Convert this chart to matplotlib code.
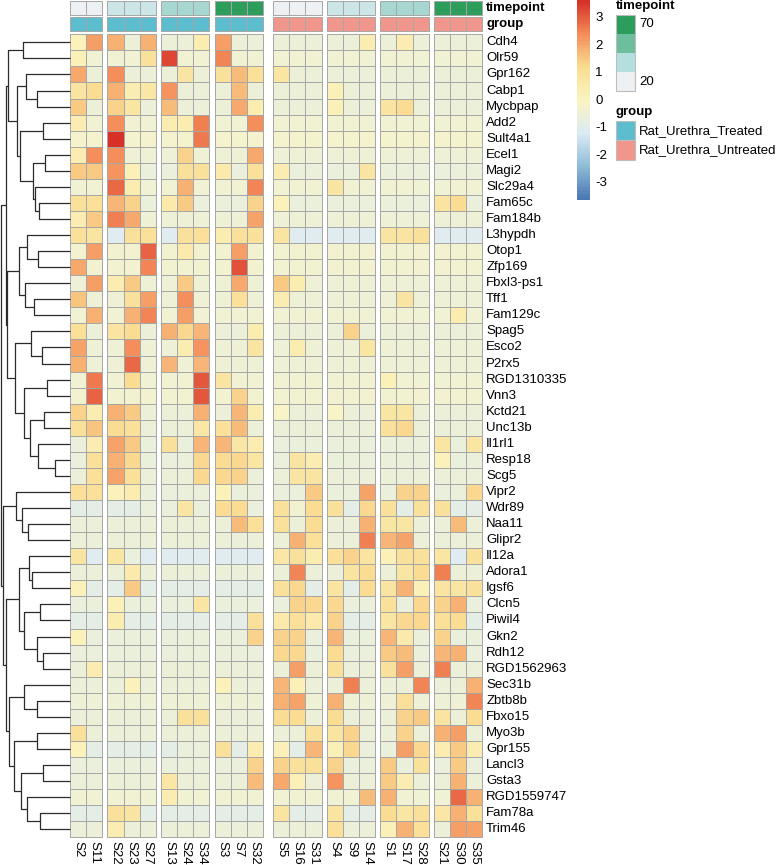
import numpy as np
import matplotlib
matplotlib.use("Agg")
import matplotlib.pyplot as plt
from matplotlib.colors import LinearSegmentedColormap, Normalize
from matplotlib.patches import Rectangle

plt.rcParams['font.family'] = ['Liberation Sans', 'DejaVu Sans']

# data
samples = ['S2', 'S11', 'S22', 'S23', 'S27', 'S13', 'S24', 'S34', 'S3', 'S7', 'S32',
           'S5', 'S16', 'S31', 'S4', 'S9', 'S14', 'S1', 'S17', 'S28', 'S21', 'S30', 'S35']
block_sizes = [2, 3, 3, 3, 3, 3, 3, 3]
block_timepoint = [20, 30, 40, 70, 20, 30, 40, 70]
block_group = ['Rat_Urethra_Treated'] * 4 + ['Rat_Urethra_Untreated'] * 4

genes = ['Cdh4', 'Olr59', 'Gpr162', 'Cabp1', 'Mycbpap', 'Add2', 'Sult4a1', 'Ecel1', 'Magi2',
         'Slc29a4', 'Fam65c', 'Fam184b', 'L3hypdh', 'Otop1', 'Zfp169', 'Fbxl3-ps1', 'Tff1',
         'Fam129c', 'Spag5', 'Esco2', 'P2rx5', 'RGD1310335', 'Vnn3', 'Kctd21', 'Unc13b',
         'Il1rl1', 'Resp18', 'Scg5', 'Vipr2', 'Wdr89', 'Naa11', 'Glipr2', 'Il12a', 'Adora1',
         'Igsf6', 'Clcn5', 'Piwil4', 'Gkn2', 'Rdh12', 'RGD1562963', 'Sec31b', 'Zbtb8b',
         'Fbxo15', 'Myo3b', 'Gpr155', 'Lancl3', 'Gsta3', 'RGD1559747', 'Fam78a', 'Trim46']

# row z-scores, columns in the order of `samples`
zscores = [
    [0.2, 2.2, 1.9, -0.5, 1.9, -0.5, -0.5, 0.4, 2.2, -0.5, -0.5, -0.5, -0.5, -0.5, -0.5, -0.5, 0.4, -0.5, 0.4, -0.5, -0.5, -0.5, -0.5],
    [0.3, -0.35, -0.35, -0.35, 1.0, 3.3, -0.4, -0.4, 2.5, -0.4, -0.4, -0.4, -0.4, -0.4, -0.4, -0.4, -0.4, -0.4, -0.4, -0.4, -0.4, -0.4, -0.4],
    [2.0, -0.5, 2.4, -0.5, -0.5, -0.5, 0.9, -0.5, 1.0, 1.7, 1.1, 0.8, -0.5, -0.5, -0.5, -0.5, -0.5, -0.5, -0.5, -0.5, -0.5, -0.5, -0.5],
    [0.9, 1.2, 1.9, 0.4, 0.7, 2.3, -0.5, -0.5, -0.5, 1.7, -0.5, -0.5, -0.5, -0.5, 0.3, -0.5, -0.5, -0.5, -0.5, -0.5, -0.5, -0.5, -0.5],
    [1.5, -0.5, 1.4, 0.8, -0.5, 1.7, -0.5, -0.5, -0.5, 2.0, 0.5, -0.5, -0.5, -0.5, 0.3, -0.5, -0.5, 0.9, 1.2, -0.5, -0.5, -0.5, -0.5],
    [0.4, -0.4, 2.4, -0.4, -0.4, 0.4, 0.4, 2.6, -0.4, -0.4, 2.4, -0.4, -0.4, -0.4, -0.4, -0.4, -0.4, -0.4, -0.4, -0.4, -0.4, -0.4, -0.4],
    [-0.2, -0.2, 3.6, -0.2, -0.2, -0.2, -0.2, 2.7, -0.2, -0.2, -0.2, -0.2, -0.2, -0.2, -0.2, -0.2, -0.2, -0.2, -0.2, -0.2, -0.2, -0.2, -0.2],
    [0.4, 2.4, 2.4, -0.45, -0.45, -0.45, 1.4, -0.45, -0.45, -0.45, 2.0, -0.45, -0.45, -0.45, -0.45, -0.45, -0.45, -0.45, -0.45, -0.45, -0.45, -0.45, -0.45],
    [1.5, 1.5, 2.3, 0.3, -0.6, -0.6, 1.0, 1.0, 0.6, -0.6, 1.1, 0.4, -0.6, -0.6, -0.6, -0.6, 0.9, -0.6, -0.6, -0.6, -0.6, -0.6, -0.6],
    [-0.4, -0.4, 2.9, 0.5, -0.4, -0.4, 1.9, -0.4, -0.4, -0.4, 2.5, -0.4, -0.4, -0.4, 0.9, -0.4, -0.4, -0.4, -0.4, -0.4, -0.4, -0.4, -0.4],
    [1.0, 1.1, 1.8, 1.4, -0.6, 0.6, 1.5, -0.6, -0.6, -0.6, 1.4, 0.2, -0.6, -0.6, -0.6, -0.6, -0.6, -0.6, -0.6, -0.6, 0.9, 1.2, -0.6],
    [0.4, 1.5, 2.6, 2.0, -0.45, -0.45, -0.45, -0.45, -0.45, -0.45, 2.1, -0.45, -0.45, -0.45, -0.45, -0.45, -0.45, -0.45, -0.45, -0.45, -0.45, -0.45, -0.45],
    [1.0, 0.9, -1.0, 1.0, 1.1, -1.0, 1.0, 1.1, 0.5, 1.0, 1.0, 0.9, -1.0, -1.0, -1.0, -1.0, -1.0, 0.9, 0.9, 1.0, -1.0, -1.0, -1.0],
    [-0.3, 2.2, -0.3, -0.3, 3.0, -0.3, 0.6, -0.3, -0.3, 2.2, -0.3, -0.3, -0.3, -0.3, -0.3, -0.3, -0.3, -0.3, -0.3, -0.3, -0.3, -0.3, -0.3],
    [2.0, -0.3, -0.3, -0.3, 2.5, -0.3, -0.3, -0.3, -0.3, 3.2, -0.3, -0.3, -0.3, -0.3, -0.3, -0.3, -0.3, -0.3, -0.3, -0.3, -0.3, -0.3, -0.3],
    [-0.45, 2.2, 0.5, 1.5, -0.45, -0.45, 1.5, -0.45, -0.45, 2.0, -0.45, 1.5, 0.5, -0.45, -0.45, -0.45, -0.45, -0.45, -0.45, -0.45, -0.45, -0.45, -0.45],
    [1.6, -0.45, -0.45, 1.0, 2.2, -0.45, 2.4, -0.45, -0.45, 1.1, -0.45, 0.4, -0.45, -0.45, -0.45, -0.45, -0.45, -0.45, 0.9, -0.45, -0.45, -0.45, -0.45],
    [-0.4, 1.9, -0.4, 1.9, 2.5, -0.4, 2.2, -0.4, -0.4, -0.4, -0.4, -0.4, -0.4, -0.4, -0.4, -0.4, -0.4, -0.4, -0.4, -0.4, -0.4, 0.5, -0.4],
    [1.1, -0.55, 0.9, 1.2, -0.55, 1.9, 1.3, 1.8, -0.55, -0.55, 0.5, -0.55, -0.55, -0.55, -0.55, 1.4, -0.55, -0.55, -0.55, -0.55, -0.55, -0.55, -0.55],
    [2.1, -0.45, -0.45, 2.4, -0.45, -0.45, 0.4, 2.3, -0.45, -0.45, 0.9, -0.45, 0.5, -0.45, -0.45, -0.45, 0.8, -0.45, -0.45, -0.45, -0.45, -0.45, -0.45],
    [1.9, -0.45, -0.45, 2.9, -0.45, 1.8, -0.45, 1.8, -0.45, -0.45, -0.45, -0.45, -0.45, -0.45, -0.45, -0.45, -0.45, -0.45, -0.45, -0.45, -0.45, -0.45, -0.45],
    [-0.4, 2.7, -0.4, 1.2, -0.4, -0.4, -0.4, 3.1, 0.9, -0.4, -0.4, -0.4, -0.4, -0.4, -0.4, -0.4, -0.4, 0.3, -0.4, -0.4, -0.4, -0.4, -0.4],
    [-0.3, 3.0, -0.3, -0.3, -0.3, -0.3, -0.3, 3.1, -0.3, 1.4, -0.3, -0.3, -0.3, -0.3, -0.3, -0.3, -0.3, -0.3, -0.3, -0.3, -0.3, -0.3, -0.3],
    [1.4, 0.4, 1.9, 1.5, -0.55, -0.55, -0.55, 1.9, -0.55, 1.8, 0.4, -0.1, -0.55, -0.55, -0.1, -0.55, -0.55, 0.8, 0.8, -0.55, -0.55, -0.55, -0.55],
    [1.0, 1.6, 1.2, 1.1, -0.55, -0.55, -0.55, 0.7, 1.1, 1.7, -0.55, -0.55, -0.55, -0.55, -0.55, -0.55, -0.55, 1.0, 1.3, -0.55, -0.55, -0.55, -0.55],
    [-0.6, 0.4, 2.1, 1.5, -0.6, 1.0, -0.6, 1.8, 1.8, 0.7, 0.4, -0.6, -0.6, -0.6, -0.6, -0.6, -0.6, -0.6, -0.6, -0.6, 0.8, -0.6, 0.8],
    [-0.6, 1.1, 1.9, 1.3, -0.6, -0.6, -0.6, 1.3, 1.2, 1.3, 0.8, -0.6, 0.9, 0.4, -0.6, -0.6, -0.6, -0.6, -0.6, -0.6, 0.2, -0.6, -0.6],
    [-0.55, 1.1, 2.1, 1.1, -0.55, -0.55, -0.55, 1.3, 1.3, 1.4, -0.55, -0.55, 0.9, 0.9, -0.55, -0.55, -0.55, -0.55, -0.55, -0.55, -0.55, -0.55, -0.55],
    [1.1, 1.1, 0.2, 0.5, -0.6, -0.6, -0.6, -0.6, 0.2, -0.6, -0.6, -0.6, -0.6, 1.5, -0.6, -0.6, 2.1, -0.6, 1.4, 1.4, -0.6, -0.6, 1.3],
    [-0.8, -0.8, -0.8, -0.8, -0.6, -0.6, 0.8, -0.6, 1.2, 1.2, -0.6, 1.0, -0.3, 1.2, 1.0, -0.8, 1.3, 1.0, -0.8, 1.0, 1.0, -0.8, -0.8],
    [-0.55, -0.55, -0.55, -0.55, -0.55, -0.55, -0.55, -0.55, -0.55, 1.7, 1.1, 1.0, -0.55, 1.2, -0.55, -0.55, 1.9, 0.8, 0.8, -0.55, -0.55, 1.7, -0.55],
    [-0.5, -0.5, -0.5, -0.5, -0.5, -0.5, -0.5, -0.5, -0.5, -0.5, -0.5, -0.5, 1.9, 1.1, -0.5, -0.5, 2.6, 1.8, 2.1, -0.5, -0.5, -0.5, -0.5],
    [0.9, -1.0, 0.8, -0.6, -1.0, -1.0, -1.0, -1.0, -1.0, -1.0, -1.0, 0.7, 1.0, 0.5, 1.1, 1.4, 0.9, 0.3, 1.0, 1.0, 0.8, -1.0, 1.0],
    [-0.5, -0.5, -0.5, 0.6, -0.5, -0.5, -0.5, -0.5, -0.5, -0.5, -0.5, -0.5, 2.5, -0.5, -0.5, 0.9, 1.2, -0.5, 0.8, 1.2, 2.6, -0.5, -0.5],
    [0.2, -0.8, -0.8, 1.5, -0.8, -0.8, -0.8, -0.8, -0.8, -0.8, -0.8, 1.0, 1.3, -0.8, 0.9, -0.8, 1.2, 0.9, 1.9, 0.3, 0.9, 0.8, 1.0],
    [-0.6, -0.6, 0.3, -0.6, -0.6, -0.6, -0.6, 0.8, -0.6, -0.6, -0.6, -0.6, 1.4, 1.3, 1.3, -0.6, -0.6, 1.0, -0.6, 1.3, 1.4, 1.9, -0.6],
    [-0.8, -0.8, 0.4, -0.8, -0.8, -0.8, -0.8, -0.8, -0.8, -0.8, 1.0, 0.6, 1.1, 0.6, 1.4, -0.8, -0.8, 0.8, 1.3, 1.3, 1.1, 1.2, -0.8],
    [0.2, -0.6, -0.6, -0.6, -0.6, -0.6, -0.6, -0.6, -0.6, -0.6, 1.4, 1.4, 1.4, -0.6, 1.8, -0.6, -0.6, 1.8, 0.6, -0.6, 1.4, -0.6, -0.6],
    [-0.6, -0.6, -0.6, -0.6, -0.6, -0.6, -0.6, -0.6, -0.6, -0.6, -0.6, 1.3, 1.3, -0.6, 1.2, -0.6, -0.6, 1.5, 1.7, -0.6, 1.8, 1.9, -0.6],
    [-0.5, 0.4, -0.5, -0.5, -0.5, -0.5, -0.5, -0.5, -0.5, -0.5, -0.5, -0.5, 2.2, -0.5, 1.0, -0.5, -0.5, 1.0, 2.2, -0.5, 2.6, -0.5, -0.5],
    [-0.5, -0.5, -0.5, 0.2, -0.5, -0.5, -0.5, -0.5, 0.2, -0.5, -0.5, 1.8, 0.3, -0.5, -0.5, 2.6, -0.5, -0.5, -0.5, 2.5, -0.5, -0.5, 1.9],
    [-0.45, -0.45, -0.45, -0.45, -0.45, -0.45, -0.45, -0.45, -0.45, -0.45, -0.45, 1.9, 2.1, -0.45, 1.9, -0.45, -0.45, -0.45, 1.1, -0.45, -0.45, -0.45, 2.5],
    [-0.55, -0.55, -0.55, -0.55, -0.55, -0.55, 1.0, 1.0, -0.55, -0.55, -0.55, 1.2, 1.2, -0.55, 1.2, -0.55, -0.55, -0.55, 1.4, 1.5, 0.9, -0.55, 1.2],
    [1.0, -0.5, -0.5, -0.5, -0.5, -0.5, -0.5, -0.5, -0.5, -0.5, -0.5, -0.5, -0.5, 1.0, 0.9, 1.4, -0.5, -0.5, 1.4, -0.5, 1.9, 2.2, -0.5],
    [0.2, -0.8, -0.8, -0.8, -0.8, -0.8, -0.6, -0.6, 1.0, -0.8, 0.4, 0.3, -0.8, 1.8, 0.3, 1.3, -0.6, -0.6, 2.2, 1.3, 0.4, 1.5, 0.4],
    [-0.6, -0.6, -0.6, -0.6, -0.6, -0.6, -0.6, -0.6, -0.6, -0.6, 1.4, 1.4, 1.0, 1.0, 1.4, -0.6, -0.6, 1.5, -0.6, 1.0, -0.6, 1.5, -0.6],
    [-0.5, -0.5, -0.5, -0.5, -0.5, 0.7, -0.5, -0.5, -0.5, -0.5, 1.7, 2.0, 0.3, -0.5, 2.3, -0.5, -0.5, 1.5, 0.4, -0.5, -0.5, 1.9, -0.5],
    [-0.4, -0.4, -0.4, -0.4, -0.4, 0.4, -0.4, -0.4, -0.4, -0.4, -0.4, -0.4, -0.4, -0.4, -0.4, -0.4, 1.7, 1.9, -0.4, -0.4, -0.4, 2.9, 1.9],
    [-0.8, -0.8, 1.0, 0.9, -0.8, -0.8, -0.8, -0.8, -0.8, -0.8, -0.8, 0.9, -0.8, -0.8, 0.9, -0.8, -0.8, 1.2, 0.8, 1.0, 0.7, 1.9, 1.1],
    [-0.5, -0.5, 0.4, -0.5, -0.5, -0.5, -0.5, -0.5, -0.5, -0.5, -0.5, -0.5, -0.5, -0.5, 1.1, -0.5, -0.5, 0.3, 1.9, 1.1, -0.5, 2.2, 2.1],
]

# row dendrogram: (left, right, merge height); ints are row indices
row_tree = (
    (
        ((0, 1, 46.7),
         ((2, (3, 4, 33.3), 44.3),
          ((5, 6, 27.3), ((7, 8, 24.7), (9, (10, 11, 30.7), 35.0), 37.3), 50.0), 52.7), 62.0),
        (((12, (13, 14, 31.7), 43.3), (15, (16, 17, 35.7), 45.0), 51.0),
         ((18, (19, 20, 27.7), 39.0),
          ((21, 22, 23.3), ((23, 24, 26.0), (25, (26, 27, 15.0), 31.7), 40.0), 46.0), 55.3), 63.3),
        64.0),
    ((28, (29, (30, 31, 42.3), 48.3), 54.0),
     (((32, (33, 34, 38.3), 40.7), ((35, 36, 30.0), (37, (38, 39, 27.3), 32.7), 45.7), 51.0),
      ((40, (41, 42, 32.7), 46.0),
       ((43, 44, 33.3), ((45, 46, 26.7), (47, (48, 49, 30.0), 42.7), 49.3), 56.0), 60.7),
      64.3),
     67.5),
    69.3)

# colours
heat_colors = ['#4A78B5', '#91BDD8', '#DCEBF5', '#FBF5C2', '#FADD92', '#F48D5A', '#D73027']
cmap = LinearSegmentedColormap.from_list('rdylbu_r', heat_colors, N=100)
norm = Normalize(vmin=-3.6, vmax=3.66)
tp_cmap = LinearSegmentedColormap.from_list('tp', ['#EEF1F4', '#B5DEDE', '#6CBE9C', '#2C9D5B'])
tp_norm = Normalize(vmin=20, vmax=70)
group_colors = {'Rat_Urethra_Treated': '#5CBDCE', 'Rat_Urethra_Untreated': '#F1968C'}

W, H = 777, 865
fig = plt.figure(figsize=(W / 100, H / 100), dpi=100)
ax = fig.add_axes([0, 0, 1, 1])
ax.set_xlim(0, W)
ax.set_ylim(H, 0)
ax.axis('off')

FS = 9.5
x0, cw, gap = 70.0, 16.15, 5.1
gap_units = [1, 1, 1, 2, 1, 1, 1]
y0, ch = 34.3, 16.06
border = '#A6A6A6'

# column positions
col_x = []
col_block = []
xx = x0
for b, n in enumerate(block_sizes):
    if b > 0:
        xx += gap * gap_units[b - 1]
    for j in range(n):
        col_x.append(xx)
        col_block.append(b)
        xx += cw

# annotation rows
for j, cx in enumerate(col_x):
    b = col_block[j]
    ax.add_patch(Rectangle((cx, 1.3), cw, 13.6, facecolor=tp_cmap(tp_norm(block_timepoint[b])),
                           edgecolor=border, lw=0.7))
    ax.add_patch(Rectangle((cx, 17.3), cw, 13.6, facecolor=group_colors[block_group[b]],
                           edgecolor=border, lw=0.7))

# heatmap
vals = np.array(zscores)
for i in range(vals.shape[0]):
    for j, cx in enumerate(col_x):
        ax.add_patch(Rectangle((cx, y0 + i * ch), cw, ch, facecolor=cmap(norm(vals[i, j])),
                               edgecolor=border, lw=0.7))

# labels
lx = col_x[-1] + cw + 4
for i, g in enumerate(genes):
    ax.text(lx, y0 + (i + 0.5) * ch, g, fontsize=FS, va='center', ha='left')
ax.text(lx, 8.1, 'timepoint', fontsize=FS, fontweight='bold', va='center', ha='left')
ax.text(lx, 24.1, 'group', fontsize=FS, fontweight='bold', va='center', ha='left')
yb = y0 + len(genes) * ch + 4
for j, s in enumerate(samples):
    ax.text(col_x[j] + cw / 2, yb, s, fontsize=FS, rotation=-90, ha='center', va='top')


# dendrogram
def draw_node(node):
    if isinstance(node, int):
        return y0 + (node + 0.5) * ch, 0.0
    left, right, hgt = node
    yl, hl = draw_node(left)
    yr, hr = draw_node(right)
    xn = x0 - hgt
    ax.plot([x0 - hl, xn, xn, x0 - hr], [yl, yl, yr, yr], color='#2b2b2b', lw=0.9,
            solid_capstyle='butt')
    return (yl + yr) / 2, hgt


draw_node(row_tree)

# colour key
cb_top, cb_bot = 0.0, 200.0
grad = np.linspace(norm.vmax, norm.vmin, 256)[:, None]
ax.imshow(grad, extent=(577, 590, cb_bot, cb_top), cmap=cmap, norm=norm, aspect='auto',
          origin='upper', interpolation='nearest')
for t in [3, 2, 1, 0, -1, -2, -3]:
    ty = cb_top + (norm.vmax - t) / (norm.vmax - norm.vmin) * (cb_bot - cb_top)
    ax.text(595, ty, str(t), fontsize=FS, va='center', ha='left')

# timepoint legend
ax.text(616, 6, 'timepoint', fontsize=FS, fontweight='bold', va='center', ha='left')
tp_steps = [70, 53.3, 36.7, 20]
for k, v in enumerate(tp_steps):
    ax.add_patch(Rectangle((616, 15.3 + k * 19), 18.5, 19, facecolor=tp_cmap(tp_norm(v)),
                           edgecolor='none'))
ax.add_patch(Rectangle((616, 15.3), 18.5, 76, facecolor='none', edgecolor='#BDBDBD', lw=0.8))
ax.text(639, 24, '70', fontsize=FS, va='center', ha='left')
ax.text(639, 82, '20', fontsize=FS, va='center', ha='left')

# group legend
ax.text(616, 111.5, 'group', fontsize=FS, fontweight='bold', va='center', ha='left')
for k, gname in enumerate(['Rat_Urethra_Treated', 'Rat_Urethra_Untreated']):
    ax.add_patch(Rectangle((616, 121 + k * 19.3), 18.5, 19.3, facecolor=group_colors[gname],
                           edgecolor='#BDBDBD', lw=0.8))
    ax.text(639, 130.6 + k * 19.3, gname, fontsize=FS, va='center', ha='left')

ax.set_xlim(0, W)
ax.set_ylim(H, 0)
fig.savefig('out.png', dpi=100)
